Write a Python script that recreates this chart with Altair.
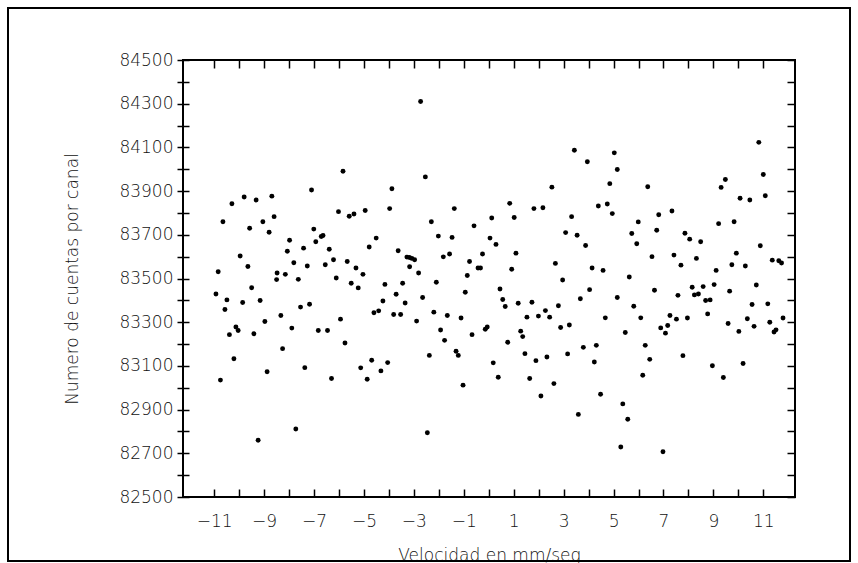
import altair as alt
import pandas as pd

# Velocity (mm/s) of each channel
velocity = [
    -9.80, -10.29, -10.65, -9.96, -10.84, -10.93, -10.49, -9.86, -10.57, -10.13, -10.04, -10.39, -10.21, -10.75,
    -9.32, -8.69, -9.58, -9.05, -8.60, -8.80, -7.98, -7.42, -8.07, -7.81, -7.27, -8.48, -8.15, -8.50,
    -9.65, -7.63, -9.50, -9.16, -7.54, -8.33, -8.97, -7.89, -9.41, -8.26, -7.37, -8.88, -7.73, -9.24,
    -7.10, -5.84, -6.02, -5.59, -5.40, -4.95, -7.01, -6.71, -6.64, -6.93, -6.39, -6.22, -6.55, -5.67,
    -4.79, -5.32, -5.04, -6.11, -5.51, -5.23, -7.18, -5.94, -6.83, -6.46, -5.76, -6.30, -5.13, -4.87,
    -2.73, -2.54, -3.88, -3.97, -2.30, -4.51, -3.63, -3.28, -3.18, -3.08, -2.97, -3.17, -2.81, -4.16,
    -3.45, -3.71, -2.65, -4.24, -3.35, -4.60, -4.41, -3.81, -3.53, -2.89, -2.38, -4.69, -4.05, -4.32, -2.46,
    -1.38, -0.59, 0.12, -2.02, -1.47, 0.05, -1.82, -1.57, -0.25, -0.77, -0.43, -0.33, -0.86, -2.10,
    -0.94, -2.20, -1.66, -1.11, -0.06, -0.14, -1.93, -0.67, -1.77, -1.31, -1.22, 0.18, -1.03,
    2.53, 0.84, 1.81, 2.17, 1.02, 0.29, 1.09, 0.92, 2.67, 0.45, 0.56, 0.66, 1.18, 1.73,
    1.53, 1.99, 2.27, 2.44, 1.28, 1.36, 0.76, 1.45, 1.89, 2.33, 0.38, 1.64, 2.61, 2.09,
    3.43, 3.95, 5.03, 5.15, 4.85, 4.39, 4.75, 4.95, 3.32, 3.08, 3.54, 3.88, 4.14, 4.58,
    2.96, 4.04, 3.67, 5.15, 2.79, 4.67, 2.88, 3.23, 3.79, 4.31, 3.16, 4.23, 4.48, 3.59,
    6.37, 6.81, 7.34, 5.99, 5.73, 6.73, 5.93, 6.54, 7.42, 5.63, 6.64, 5.81, 7.58, 6.09,
    7.26, 7.52, 6.89, 7.17, 7.08, 5.47, 6.27, 6.45, 6.17, 5.37, 5.57, 5.29, 6.98,
    9.48, 9.31, 10.07, 9.21, 9.83, 7.86, 8.05, 8.49, 8.32, 9.92, 7.70, 9.74, 9.11, 8.15,
    8.59, 9.03, 8.24, 8.40, 8.69, 8.87, 9.65, 8.77, 7.96, 9.59, 10.02, 7.78, 8.96, 9.40,
    10.82, 11.00, 11.08, 10.46, 10.88, 10.28, 10.72, 11.36, 11.62, 11.73, 10.55, 11.18, 10.36, 11.79,
    10.63, 11.26, 11.43, 11.51, 10.19,
]

# Counts per channel
counts = [
    83873, 83842, 83760, 83603, 83531, 83429, 83402, 83390, 83358, 83278, 83262, 83243, 83133, 83035,
    83859, 83877, 83730, 83760, 83783, 83712, 83675, 83639, 83625, 83572, 83557, 83525, 83519, 83495,
    83555, 83496, 83458, 83399, 83369, 83331, 83303, 83273, 83247, 83179, 83092, 83073, 82811, 82760,
    83905, 83991, 83806, 83785, 83795, 83811, 83726, 83692, 83697, 83668, 83634, 83586, 83563, 83578,
    83644, 83548, 83519, 83502, 83478, 83457, 83382, 83314, 83262, 83262, 83205, 83042, 83091, 83039,
    84310, 83965, 83911, 83820, 83760, 83685, 83627, 83598, 83596, 83592, 83586, 83554, 83525, 83473,
    83478, 83428, 83413, 83397, 83388, 83343, 83352, 83335, 83335, 83305, 83148, 83126, 83115, 83077, 82794,
    83820, 83741, 83777, 83694, 83688, 83685, 83599, 83612, 83612, 83578, 83548, 83548, 83514, 83483,
    83437, 83346, 83331, 83319, 83278, 83268, 83264, 83243, 83217, 83167, 83148, 83114, 83012,
    83918, 83844, 83820, 83824, 83779, 83656, 83616, 83542, 83569, 83452, 83404, 83372, 83387, 83391,
    83323, 83328, 83353, 83323, 83259, 83234, 83208, 83156, 83124, 83141, 83048, 83042, 83019, 82962,
    84087, 84034, 84075, 83999, 83934, 83832, 83841, 83797, 83783, 83710, 83698, 83651, 83548, 83537,
    83493, 83449, 83407, 83413, 83375, 83320, 83276, 83287, 83185, 83194, 83155, 83118, 82970, 82878,
    83920, 83792, 83809, 83759, 83706, 83721, 83659, 83600, 83607, 83507, 83446, 83373, 83423, 83320,
    83331, 83314, 83274, 83285, 83250, 83253, 83194, 83130, 83057, 82926, 82856, 82729, 82707,
    83953, 83917, 83867, 83751, 83760, 83707, 83680, 83668, 83592, 83616, 83561, 83563, 83537, 83460,
    83463, 83472, 83425, 83429, 83399, 83402, 83442, 83338, 83319, 83294, 83258, 83147, 83101, 83047,
    84123, 83976, 83879, 83859, 83650, 83557, 83470, 83584, 83581, 83571, 83381, 83384, 83316, 83319,
    83281, 83300, 83255, 83265, 83111,
]

x_ticks = list(range(-11, 12))
y_ticks = list(range(82500, 84501, 100))

df = pd.DataFrame({"v": velocity, "c": counts})

FONT = "DejaVu Sans"
TXT = "#111111"

xscale = alt.Scale(domain=[-12.25, 12.27], nice=False, zero=False)
yscale = alt.Scale(domain=[82500, 84500], nice=False, zero=False)

x_label_expr = "abs(datum.value) % 2 == 1 ? (datum.value < 0 ? '\u2212' + abs(datum.value) : '' + datum.value) : ''"
y_label_expr = "(datum.value - 82500) % 200 == 0 ? '' + datum.value : ''"

x_bottom = alt.Axis(
    values=x_ticks, labelExpr=x_label_expr, orient="bottom", offset=-8, tickSize=8,
    domain=False, grid=False, labelPadding=16, labelFlush=False, labelOverlap=False,
    title="Velocidad en mm/seg", titleY=66, titleBaseline="middle",
)
y_left = alt.Axis(
    values=y_ticks, labelExpr=y_label_expr, orient="left", offset=-6, tickSize=12,
    domain=False, grid=False, labelPadding=4, labelFlush=False, labelOverlap=False,
    title="Numero de cuentas por canal", titleX=-117, titleBaseline="middle",
)
x_top = alt.Axis(values=x_ticks, orient="top", offset=-8, tickSize=8, domain=False,
                 grid=False, labels=False, title=None)
y_right = alt.Axis(values=y_ticks, orient="right", offset=-8, tickSize=8, domain=False,
                   grid=False, labels=False, title=None)

points = alt.Chart(df).mark_point(filled=True, shape="circle", size=24, color="black", opacity=1).encode(
    x=alt.X("v:Q", scale=xscale, axis=x_bottom),
    y=alt.Y("c:Q", scale=yscale, axis=y_left),
)
ghost = alt.Chart(df).mark_point(opacity=0).encode(
    x=alt.X("v:Q", scale=xscale, axis=x_top),
    y=alt.Y("c:Q", scale=yscale, axis=y_right),
)

border = alt.Chart(alt.Data(values=[{}])).mark_rect(
    fillOpacity=0, stroke="black", strokeWidth=2
).encode(
    x=alt.value(-175), x2=alt.value(667), y=alt.value(-52), y2=alt.value(501)
)

chart = alt.layer(points, ghost, border).resolve_axis(
    x="independent", y="independent"
).properties(
    width=612, height=437,
    padding={"left": 183, "top": 60, "right": 63, "bottom": 66},
    autosize=alt.AutoSizeParams(type="none"),
    background="white",
).configure_view(
    stroke="black", strokeWidth=2
).configure_axis(
    labelFont=FONT, labelFontSize=17, labelColor=TXT, labelFontWeight=200,
    titleFont=FONT, titleFontSize=17, titleColor=TXT, titleFontWeight=200,
    tickColor="black", tickWidth=1.5,
)

chart.save("out.html", embed_options={"renderer": "svg", "actions": False})
